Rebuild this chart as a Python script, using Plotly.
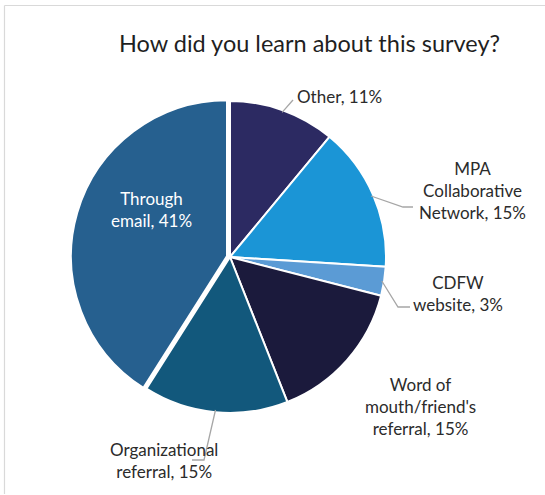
import math
import plotly.graph_objects as go

# Survey responses, in clockwise order from 12 o'clock
categories = ["Other", "MPA<br>Collaborative<br>Network", "CDFW<br>website",
              "Word of<br>mouth/friend's<br>referral", "Organizational<br>referral",
              "Through<br>email"]
percentages = [11, 15, 3, 15, 15, 41]
colors = ["#2c2a62", "#1b95d6", "#5b9bd5", "#1b1a3c", "#12587c", "#26608f"]
pulls = [0, 0, 0, 0, 0, 0.02]

W, H = 545, 495
CX, CY, R = 230, 257, 156          # pie centre and radius in pixels
MAXPULL = max(pulls)
HALF = R * (1 + MAXPULL)

FONT = "Lato, Calibri, 'Open Sans', sans-serif"
TEXT = "#2b2b2b"

fig = go.Figure()
fig.add_trace(go.Pie(
    labels=[c.replace("<br>", " ") for c in categories],
    values=percentages,
    marker=dict(colors=colors, line=dict(color="white", width=2)),
    pull=pulls,
    sort=False,
    direction="clockwise",
    rotation=0,
    textinfo="none",
    hoverinfo="label+percent",
    showlegend=False,
    domain=dict(x=[(CX - HALF) / W, (CX + HALF) / W],
                y=[1 - (CY + HALF) / H, 1 - (CY - HALF) / H]),
))


def edge_point(i, frac=1.0):
    """Point on the rim of slice i at its middle angle (pixel coords)."""
    total = sum(percentages)
    start = sum(percentages[:i]) / total
    mid = (start + percentages[i] / total / 2) * 2 * math.pi
    return CX + frac * R * math.sin(mid), CY - frac * R * math.cos(mid)


# label placement: (x, y, xanchor, leader-line waypoints after the rim point)
placement = {
    0: (339, 96, "center", [(293, 100)]),
    1: (472, 190, "center", [(403, 207), (413, 207)]),
    2: (458, 293, "center", [(398, 307), (410, 307)]),
    3: (420, 406, "center", []),
    4: (164, 460, "center", [(204, 460), (192, 460)]),
}

annotations = []
shapes = []
for i, (name, pct) in enumerate(zip(categories, percentages)):
    text = f"{name}, {pct}%"
    if i in placement:
        x, y, xa, path = placement[i]
        annotations.append(dict(x=x, y=y, xref="x", yref="y", text=text,
                                showarrow=False, xanchor=xa, yanchor="middle",
                                font=dict(family=FONT, size=17, color=TEXT)))
        if path:
            sx, sy = edge_point(i, 0.985)
            d = f"M {sx:.1f},{sy:.1f} " + " ".join(f"L {px},{py}" for px, py in path)
            shapes.append(dict(type="path", xref="x", yref="y", path=d,
                               line=dict(color="#a6a6a6", width=1.3)))
    else:
        annotations.append(dict(x=151, y=209, xref="x", yref="y", text=text,
                                showarrow=False, xanchor="center", yanchor="middle",
                                font=dict(family=FONT, size=17, color="white")))

# chart title
annotations.append(dict(x=309, y=43, xref="x", yref="y",
                        text="How did you learn about this survey?",
                        showarrow=False, xanchor="center", yanchor="middle",
                        font=dict(family=FONT, size=23.5, color="#1f1f1f")))

# chart-area frame (left and top edges)
shapes.append(dict(type="line", xref="x", yref="y", x0=4.5, y0=5.5, x1=4.5, y1=494,
                   line=dict(color="#d9d9d9", width=1.2), layer="below"))
shapes.append(dict(type="line", xref="x", yref="y", x0=4.5, y0=5.5, x1=545, y1=5.5,
                   line=dict(color="#d9d9d9", width=1.2), layer="below"))

fig.update_layout(
    width=W, height=H,
    margin=dict(l=0, r=0, t=0, b=0),
    paper_bgcolor="white", plot_bgcolor="rgba(0,0,0,0)",
    xaxis=dict(range=[0, W], visible=False, fixedrange=True),
    yaxis=dict(range=[H, 0], visible=False, fixedrange=True),
    annotations=annotations,
    shapes=shapes,
)

fig.write_html("out.html")
